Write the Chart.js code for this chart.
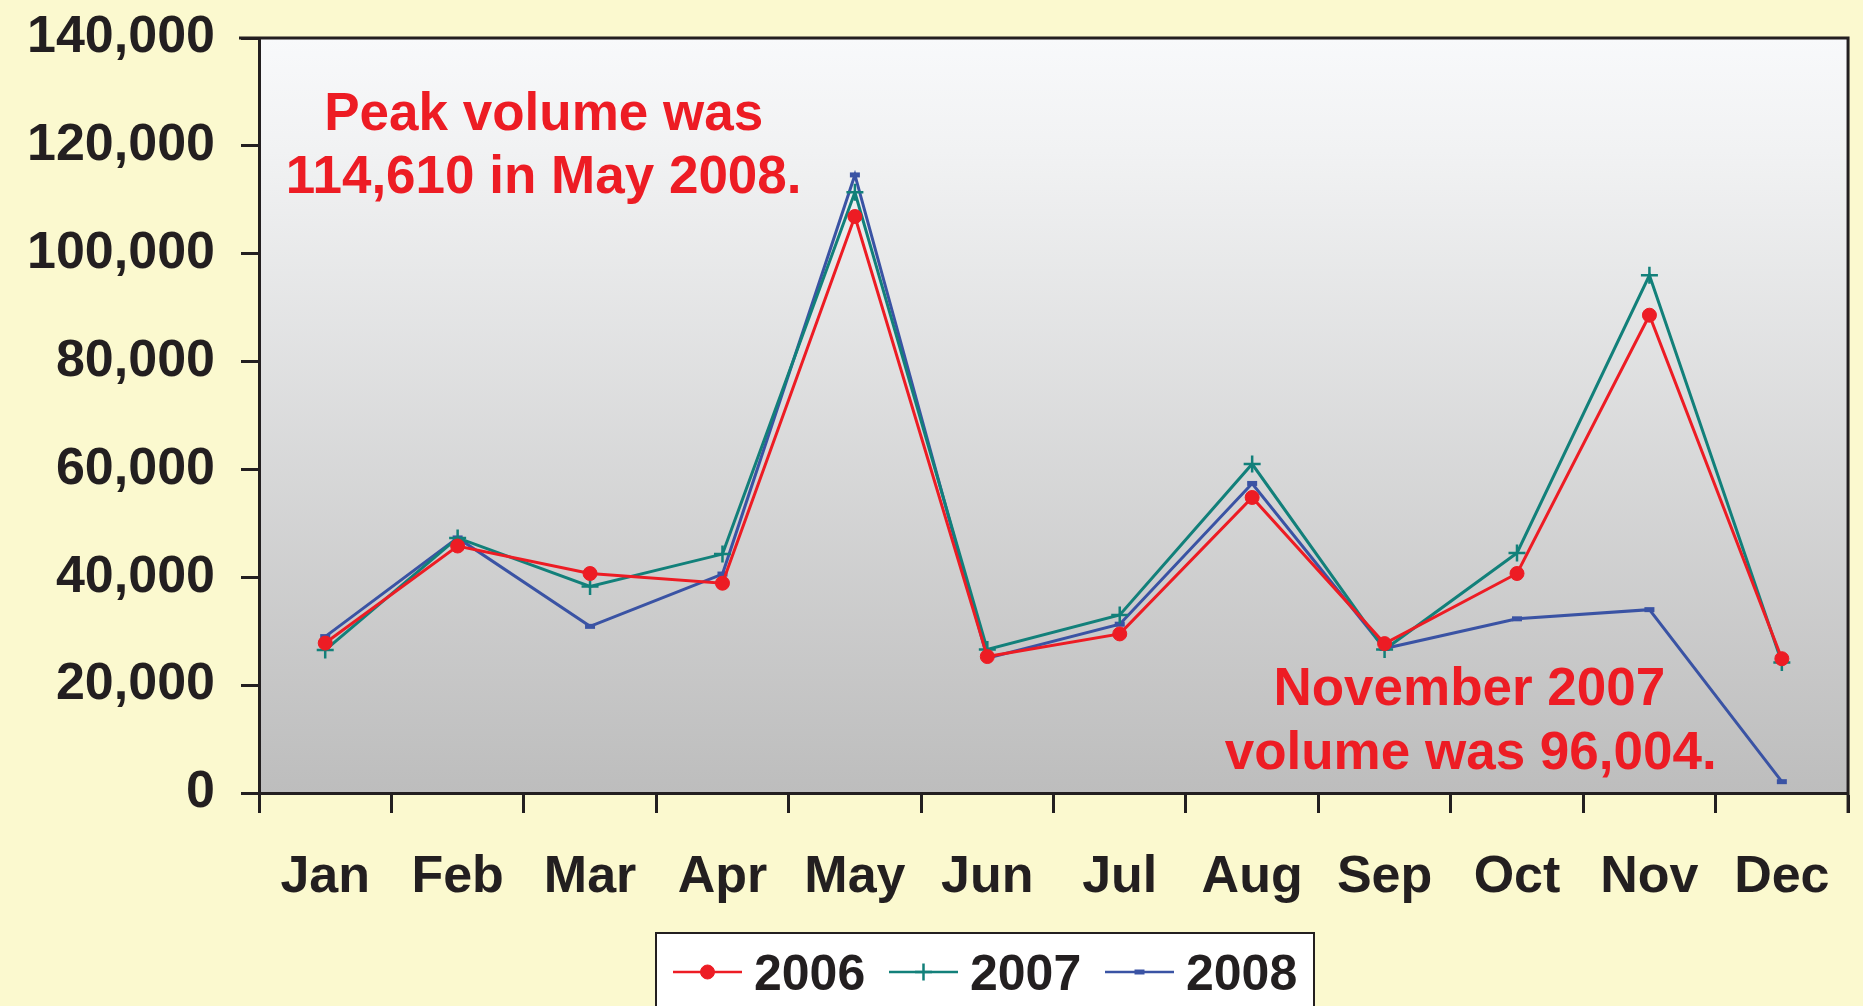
<!DOCTYPE html>
<html>
<head>
<meta charset="utf-8">
<script src="https://cdn.jsdelivr.net/npm/chart.js@4.4.0/dist/chart.umd.min.js"></script>
<style>
  html, body { margin: 0; padding: 0; background: #fbf9cf; overflow: hidden; }
  canvas { display: block; }
</style>
</head>
<body>
<canvas id="chart" width="1863" height="1006"></canvas>
<script>
const months = ['Jan', 'Feb', 'Mar', 'Apr', 'May', 'Jun', 'Jul', 'Aug', 'Sep', 'Oct', 'Nov', 'Dec'];
const years = ['2006', '2007', '2008'];
const vol2006 = [27800, 45800, 40700, 38900, 106900, 25300, 29500, 54800, 27700, 40700, 88600, 24900];
const vol2007 = [26500, 47300, 38300, 44300, 111400, 26600, 33000, 61000, 26600, 44500, 96004, 24200];
const vol2008 = [29000, 47300, 30900, 40600, 114610, 25000, 31300, 57400, 26800, 32300, 34000, 2100];
const yTicks = [0, 20000, 40000, 60000, 80000, 100000, 120000, 140000];

// text notes, placed in axis units (category index, volume)
const notes = [
  { text: 'Peak volume was', x: 1.65, y: 125700 },
  { text: '114,610 in May 2008.', x: 1.65, y: 114000 },
  { text: 'November 2007', x: 8.64, y: 19100 },
  { text: 'volume was 96,004.', x: 8.65, y: 7200 }
];

const ink = '#231f20';
const font = 'Liberation Sans, Arial, sans-serif';

const seriesStyle = [
  { color: '#ed1c24', pointStyle: 'circle', radius: 7, borderWidth: 1 },
  { color: '#12807a', pointStyle: 'cross', radius: 8.5, borderWidth: 2.5 },
  { color: '#3a53a4', pointStyle: 'line', radius: 5, borderWidth: 5 }
];

const plotBg = {
  id: 'plotBg',
  beforeDraw(chart) {
    const { ctx, chartArea: a } = chart;
    const g = ctx.createLinearGradient(0, a.top, 0, a.bottom);
    g.addColorStop(0, '#f8f9fb');
    g.addColorStop(0.15, '#f1f2f3');
    g.addColorStop(1, '#bdbdbd');
    ctx.save();
    ctx.fillStyle = g;
    ctx.fillRect(a.left, a.top, a.right - a.left, a.bottom - a.top);
    ctx.restore();
  }
};

const frame = {
  id: 'frame',
  afterDraw(chart) {
    const { ctx, chartArea: a } = chart;
    ctx.save();
    ctx.strokeStyle = ink;
    ctx.lineWidth = 3;
    ctx.beginPath();
    ctx.moveTo(a.left - 20, a.top);
    ctx.lineTo(a.right, a.top);
    ctx.lineTo(a.right, a.bottom + 20);
    ctx.stroke();
    ctx.restore();
  }
};

const noteText = {
  id: 'noteText',
  afterDraw(chart) {
    const { ctx, scales } = chart;
    ctx.save();
    ctx.fillStyle = '#ed1c24';
    ctx.font = 'bold 53px ' + font;
    ctx.textAlign = 'center';
    ctx.textBaseline = 'middle';
    notes.forEach(n => {
      ctx.fillText(n.text, scales.x.getPixelForValue(n.x), scales.y.getPixelForValue(n.y));
    });
    ctx.restore();
  }
};

// legend box, partly cut off by the bottom edge like the original
const boxLegend = {
  id: 'boxLegend',
  afterDraw(chart) {
    const { ctx } = chart;
    const left = 656, top = 933, width = 658, height = 90;
    ctx.save();
    ctx.fillStyle = '#ffffff';
    ctx.fillRect(left, top, width, height);
    ctx.strokeStyle = ink;
    ctx.lineWidth = 2;
    ctx.strokeRect(left, top, width, height);
    const cy = 972;
    chart.data.datasets.forEach((ds, i) => {
      const x0 = 673 + i * 216;
      ctx.strokeStyle = ds.borderColor;
      ctx.lineWidth = 2.5;
      ctx.beginPath();
      ctx.moveTo(x0, cy);
      ctx.lineTo(x0 + 69, cy);
      ctx.stroke();
      ctx.fillStyle = ds.pointBackgroundColor;
      ctx.strokeStyle = ds.pointBorderColor;
      ctx.lineWidth = ds.pointBorderWidth;
      Chart.helpers.drawPoint(ctx, {
        pointStyle: ds.pointStyle,
        radius: ds.pointRadius,
        borderWidth: ds.pointBorderWidth,
        rotation: 0
      }, x0 + 34.5, cy);
      ctx.fillStyle = ink;
      ctx.font = 'bold 50px ' + font;
      ctx.textAlign = 'left';
      ctx.textBaseline = 'alphabetic';
      ctx.fillText(ds.label, x0 + 81, 990);
    });
    ctx.restore();
  }
};

const allValues = [vol2006, vol2007, vol2008];

new Chart(document.getElementById('chart'), {
  type: 'line',
  data: {
    labels: months,
    datasets: years.map((year, i) => ({
      label: year,
      data: allValues[i],
      borderColor: seriesStyle[i].color,
      backgroundColor: seriesStyle[i].color,
      borderWidth: 3,
      tension: 0,
      pointStyle: seriesStyle[i].pointStyle,
      pointRadius: seriesStyle[i].radius,
      pointBackgroundColor: seriesStyle[i].color,
      pointBorderColor: seriesStyle[i].color,
      pointBorderWidth: seriesStyle[i].borderWidth,
      pointHoverRadius: seriesStyle[i].radius
    }))
  },
  options: {
    responsive: false,
    devicePixelRatio: 1,
    animation: false,
    events: [],
    layout: { padding: { top: 38, right: 11, left: 0, bottom: 0 } },
    plugins: {
      legend: { display: false },
      title: { display: false },
      tooltip: { enabled: false }
    },
    scales: {
      x: {
        offset: true,
        grid: {
          offset: true,
          drawOnChartArea: false,
          tickLength: 20,
          tickWidth: 3,
          tickColor: ink
        },
        border: { color: ink, width: 3 },
        ticks: {
          color: ink,
          font: { family: font, size: 52, weight: 'bold' },
          padding: 33,
          maxRotation: 0,
          autoSkip: false
        },
        afterFit(scale) { scale.height = 213; }
      },
      y: {
        min: 0,
        max: 140000,
        afterBuildTicks(scale) { scale.ticks = yTicks.map(v => ({ value: v })); },
        grid: {
          drawOnChartArea: false,
          tickLength: 18,
          tickWidth: 3,
          tickColor: ink
        },
        border: { color: ink, width: 3 },
        ticks: {
          color: ink,
          font: { family: font, size: 52, weight: 'bold' },
          padding: 26,
          callback: v => v.toLocaleString('en-US')
        },
        afterFit(scale) {
          scale.width = 259;
          scale.paddingTop = 0;
          scale.paddingBottom = 0;
        }
      }
    }
  },
  plugins: [plotBg, frame, noteText, boxLegend]
});
</script>
</body>
</html>
